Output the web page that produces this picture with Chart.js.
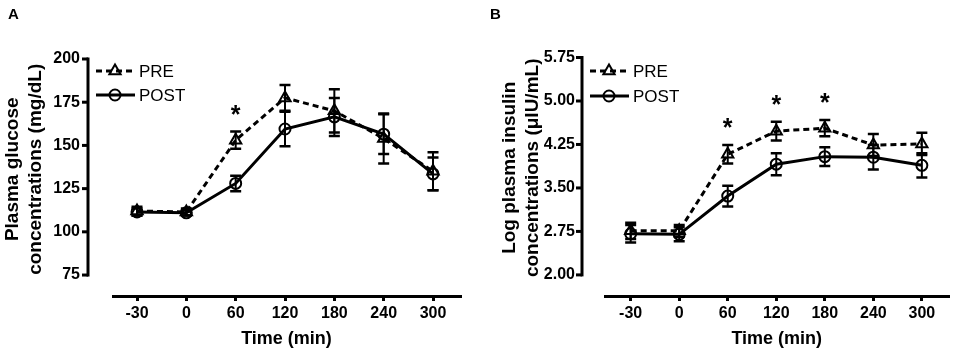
<!DOCTYPE html>
<html>
<head>
<meta charset="utf-8">
<script src="https://cdn.jsdelivr.net/npm/chart.js@4.4.0/dist/chart.umd.min.js"></script>
<style>
  html, body { margin: 0; padding: 0; background: #fff; }
  #wrap { position: relative; width: 957px; height: 354px; overflow: hidden; }
  #ca { position: absolute; left: 0; top: 0; }
  #cb { position: absolute; left: 478px; top: 0; }
</style>
</head>
<body>
<div id="wrap">
  <canvas id="ca" width="478" height="354"></canvas>
  <canvas id="cb" width="479" height="354"></canvas>
</div>
<script>
// ---- data ----
const timeLabels = ['-30', '0', '60', '120', '180', '240', '300'];

const glucosePre      = [112, 111.5, 153, 177.5, 170, 154, 135];
const glucosePreSem   = [2.5, 2, 5, 7.5, 12.5, 14.5, 11];
const glucosePost     = [111.5, 111, 128, 159.5, 166.5, 156.5, 133.5];
const glucosePostSem  = [2, 1.5, 4.5, 10, 11, 11.5, 9.5];
const glucoseSig      = [false, false, true, false, false, false, false];
const glucoseTicks    = [75, 100, 125, 150, 175, 200];

const insulinPre      = [2.76, 2.76, 4.08, 4.48, 4.53, 4.24, 4.26];
const insulinPreSem   = [0.14, 0.10, 0.16, 0.16, 0.14, 0.19, 0.19];
const insulinPost     = [2.71, 2.70, 3.36, 3.91, 4.04, 4.03, 3.89];
const insulinPostSem  = [0.15, 0.12, 0.18, 0.19, 0.16, 0.21, 0.21];
const insulinSig      = [false, false, true, true, true, false, false];
const insulinTicks    = [2.00, 2.75, 3.50, 4.25, 5.00, 5.75];

const FONT = "'Liberation Sans', Arial, Helvetica, sans-serif";

const decor = {
  id: 'decor',
  afterDatasetsDraw(chart, args, o) {
    const ctx = chart.ctx;
    const xs = chart.scales.x, ys = chart.scales.y;
    ctx.save();
    ctx.strokeStyle = '#000';
    ctx.fillStyle = '#000';
    ctx.lineCap = 'butt';
    // y axis line and tick marks
    const ax = o.axisX;
    const yTop = ys.getPixelForValue(o.ticks[o.ticks.length - 1]);
    const yBot = ys.getPixelForValue(o.ticks[0]);
    ctx.lineWidth = 3;
    ctx.beginPath();
    ctx.moveTo(ax, yTop - 1.5);
    ctx.lineTo(ax, yBot + 1.5);
    ctx.stroke();
    o.ticks.forEach(v => {
      const p = ys.getPixelForValue(v);
      ctx.beginPath();
      ctx.moveTo(ax - 6, p);
      ctx.lineTo(ax, p);
      ctx.stroke();
    });
    // error bars
    chart.data.datasets.forEach(ds => {
      ds.data.forEach((pt, i) => {
        const e = ds.errors[i];
        const px = xs.getPixelForValue(pt.x);
        const t = ys.getPixelForValue(pt.y + e);
        const b = ys.getPixelForValue(pt.y - e);
        ctx.lineWidth = 2;
        ctx.beginPath();
        ctx.moveTo(px, t); ctx.lineTo(px, b);
        ctx.stroke();
        ctx.lineWidth = 2.5;
        ctx.beginPath();
        ctx.moveTo(px - 5.5, t); ctx.lineTo(px + 5.5, t);
        ctx.moveTo(px - 5.5, b); ctx.lineTo(px + 5.5, b);
        ctx.stroke();
      });
    });
    // significance stars
    const pre = chart.data.datasets[0];
    ctx.font = 'bold 25px ' + FONT;
    ctx.textAlign = 'center';
    ctx.textBaseline = 'alphabetic';
    pre.sig.forEach((s, i) => {
      if (!s) return;
      const pt = pre.data[i];
      const px = xs.getPixelForValue(pt.x);
      const t = ys.getPixelForValue(pt.y + pre.errors[i]);
      ctx.fillText('*', px, t - 9);
    });
    // legend
    chart.data.datasets.forEach((ds, k) => {
      const ly = o.legendY[k];
      const x0 = ax + 8, x1 = ax + 47, xm = ax + 27;
      ctx.lineWidth = ds.borderWidth;
      ctx.setLineDash(ds.borderDash || []);
      ctx.beginPath();
      ctx.moveTo(x0, ly); ctx.lineTo(x1, ly);
      ctx.stroke();
      ctx.setLineDash([]);
      ctx.fillStyle = 'rgba(0,0,0,0)';
      ctx.lineWidth = ds.pointBorderWidth;
      Chart.helpers.drawPoint(ctx, {
        pointStyle: ds.pointStyle, rotation: 0,
        radius: ds.pointRadius, borderWidth: ds.pointBorderWidth
      }, xm, ly);
      ctx.fillStyle = '#000';
      ctx.font = '17px ' + FONT;
      ctx.textAlign = 'left';
      ctx.textBaseline = 'middle';
      ctx.fillText(ds.label, ax + 51, ly + 1);
    });
    // panel letter
    ctx.font = 'bold 15px ' + FONT;
    ctx.textAlign = 'left';
    ctx.textBaseline = 'alphabetic';
    ctx.fillText(o.panel, o.panelX, 19);
    ctx.restore();
  }
};

function makeChart(id, c) {
  const ds = (label, vals, errs, sig, solid) => ({
    label,
    data: vals.map((v, i) => ({ x: i, y: v })),
    errors: errs,
    sig,
    borderColor: '#000',
    borderWidth: 3,
    borderDash: solid ? [] : [6, 4],
    pointStyle: solid ? 'circle' : 'triangle',
    pointRadius: solid ? 5.5 : 6.5,
    pointBorderWidth: 2,
    pointBorderColor: '#000',
    pointBackgroundColor: 'rgba(255,255,255,0)',
    tension: 0,
    fill: false
  });
  return new Chart(document.getElementById(id), {
    type: 'line',
    data: {
      datasets: [
        ds('PRE', c.pre, c.preSem, c.sig, false),
        ds('POST', c.post, c.postSem, c.sig, true)
      ]
    },
    options: {
      responsive: false,
      animation: false,
      devicePixelRatio: 1,
      layout: { padding: { top: c.top, right: c.right, left: 0, bottom: 0 } },
      plugins: {
        legend: { display: false },
        tooltip: { enabled: false },
        decor: {
          axisX: c.axisX, ticks: c.ticks, legendY: c.legendY,
          panel: c.panel, panelX: c.panelX
        }
      },
      scales: {
        x: {
          type: 'linear',
          min: c.xmin, max: c.xmax,
          afterBuildTicks: s => { s.ticks = timeLabels.map((_, i) => ({ value: i })); },
          afterFit: s => { s.height = 58; },
          grid: { display: true, drawOnChartArea: false, drawTicks: true, tickLength: 5, lineWidth: 3, color: '#000' },
          border: { display: true, width: 3, color: '#000' },
          ticks: {
            autoSkip: false, maxRotation: 0, padding: 3, color: '#000',
            font: { family: FONT, size: 16, weight: 'bold' },
            callback: v => timeLabels[Math.round(v)]
          },
          title: {
            display: true, text: 'Time (min)', color: '#000',
            font: { family: FONT, size: 18, weight: 'bold' },
            padding: { top: 0, bottom: 4 }
          }
        },
        y: {
          type: 'linear',
          min: c.ymin, max: c.ymax,
          afterBuildTicks: s => { s.ticks = c.ticks.map(v => ({ value: v })); },
          afterFit: s => { s.width = c.left; },
          grid: { display: false, drawTicks: false },
          border: { display: false },
          ticks: {
            autoSkip: false, padding: c.tickPad, color: '#000',
            font: { family: FONT, size: c.tickSize, weight: 'bold' },
            callback: c.fmt
          },
          title: {
            display: true, text: c.title, color: '#000',
            font: { family: FONT, size: 19, weight: 'bold', lineHeight: 1.2 },
            padding: { top: c.titlePad, bottom: 0 }
          }
        }
      }
    },
    plugins: [decor]
  });
}

makeChart('ca', {
  pre: glucosePre, preSem: glucosePreSem, post: glucosePost, postSem: glucosePostSem, sig: glucoseSig,
  ticks: glucoseTicks, fmt: v => String(v),
  title: ['Plasma glucose', 'concentrations (mg/dL)'],
  top: 18, right: 18, left: 113, axisX: 88, tickPad: 33, tickSize: 16, titlePad: 1.6,
  xmin: -0.4865, xmax: 6.547, ymin: 62.87, ymax: 209.49,
  legendY: [71, 95], panel: 'A', panelX: 8
});

makeChart('cb', {
  pre: insulinPre, preSem: insulinPreSem, post: insulinPost, postSem: insulinPostSem, sig: insulinSig,
  ticks: insulinTicks, fmt: v => Number(v).toFixed(2),
  title: ['Log plasma insulin', 'concentrations (\u03BCIU/mL)'],
  top: 20, right: 4, left: 127, axisX: 104, tickPad: 30, tickSize: 16, titlePad: 20.6,
  xmin: -0.529, xmax: 6.549, ymin: 1.636, ymax: 6.059,
  legendY: [71, 96], panel: 'B', panelX: 12
});
</script>
</body>
</html>
